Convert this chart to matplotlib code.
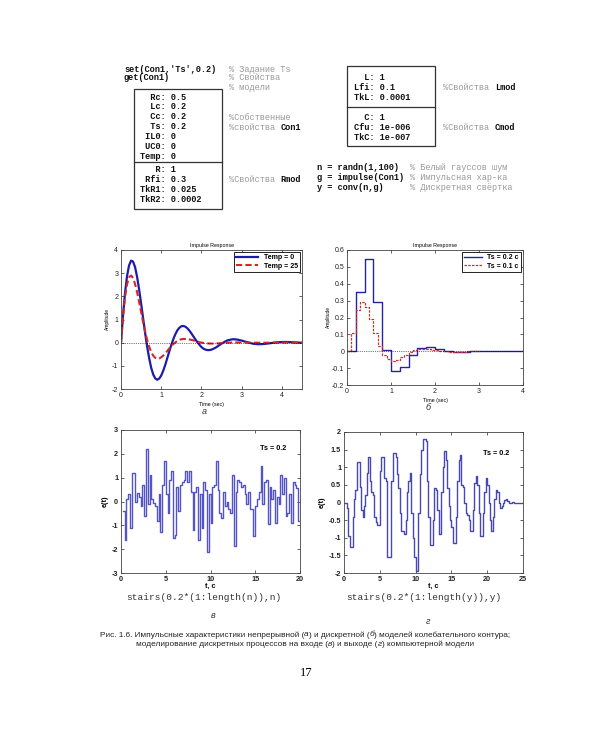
import numpy as np
import matplotlib
matplotlib.use('Agg')
import matplotlib.pyplot as plt
from matplotlib.patches import Rectangle
from matplotlib.ticker import FuncFormatter

plt.rcParams['font.family'] = ['Liberation Sans', 'DejaVu Sans']
plt.rcParams['axes.unicode_minus'] = False

# ---- data ----
# (а) continuous impulse response, Temp = 0 / Temp = 25
t_cont = np.concatenate([np.arange(0, 3.001, 0.05), np.arange(3.1, 4.501, 0.1)])
temp0 = [0, 1.18, 2.15, 2.87, 3.33, 3.54, 3.50, 3.26, 2.84, 2.30,
         1.69, 1.05, 0.41, -0.17, -0.67, -1.08, -1.37, -1.54, -1.60, -1.55,
         -1.42, -1.21, -0.96, -0.67, -0.38, -0.10, 0.15, 0.36, 0.53, 0.64,
         0.71, 0.72, 0.69, 0.62, 0.52, 0.40, 0.27, 0.14, 0.02, -0.09,
         -0.19, -0.26, -0.30, -0.32, -0.32, -0.30, -0.26, -0.22, -0.16, -0.10,
         -0.04, 0.01, 0.06, 0.10, 0.12, 0.14, 0.15, 0.14, 0.13, 0.11, 0.09,
         0.04, -0.01, -0.05, -0.065, -0.063, -0.048, -0.025, -0.002, 0.017, 0.028,
         0.030, 0.025, 0.015, 0.004, -0.005]
temp25 = [0, 1.12, 1.96, 2.52, 2.82, 2.90, 2.79, 2.53, 2.18, 1.76,
          1.32, 0.88, 0.48, 0.12, -0.17, -0.40, -0.56, -0.65, -0.69, -0.68,
          -0.63, -0.56, -0.46, -0.36, -0.25, -0.15, -0.06, 0.01, 0.08, 0.12,
          0.15, 0.16, 0.16, 0.16, 0.14, 0.12, 0.10, 0.07, 0.05, 0.02,
          0.005, -0.011, -0.024, -0.032, -0.037, -0.039, -0.038, -0.035, -0.030, -0.025,
          -0.019, -0.013, -0.007, -0.003, 0.002, 0.004, 0.007, 0.008, 0.009, 0.009, 0.009,
          0.006, 0.003, 0.0, -0.002, -0.003, -0.002, -0.001, 0.0, 0.001, 0.001,
          0.001, 0.0, 0.0, 0.0, 0.0]
legend_a = ['Temp = 0', 'Temp = 25']

# (б) discrete impulse responses
g_ts02 = [0, 0.35, 0.545, 0.29, 0.01, -0.115, -0.095, -0.025, 0.02, 0.025,
          0.015, 0.003, -0.003, -0.003, 0.0, 0, 0, 0, 0, 0, 0]
g_ts01 = [0, 0.11, 0.245, 0.29, 0.26, 0.19, 0.11, 0.03, -0.02, -0.045,
          -0.06, -0.05, -0.035, -0.02, -0.005, 0.005, 0.012, 0.015, 0.013, 0.01,
          0.005, 0.002, 0.0, -0.002, -0.003, -0.003, -0.002, -0.001, 0.0, 0.0, 0.0]
legend_b = ['Ts = 0.2 c', 'Ts = 0.1 c']

# (в) input white noise n
n = [-0.4, -1.6, 0.1, 0.3, -1.1, 1.2, 1.2, 0.0, 0.35, 0.2,
     -0.2, 0.7, -0.6, 2.2, -0.1, 1.1, 0.1, -0.05, -0.2, -0.8,
     0.3, -1.3, 0.7, 1.7, 0.3, -0.5, 0.9, 1.3, -1.55, -1.4,
     0.6, -0.4, 0.7, 0.8, 0.9, 1.3, 0.8, 1.3, 0.4, -1.2,
     0.4, 0.6, -1.6, 0.3, -1.1, 0.8, 0.5, -2.1, 0.3, -0.9,
     0.6, 0.7, 1.7, 0.5, -0.5, -0.7, 0.4, -0.2, 0.0, -0.3,
     -0.5, 1.1, -1.85, 0.4, 0.9, 0.8, 0.6, 0.7, 0.3, -0.1,
     0.4, -0.3, -0.3, -1.45, -0.2, 0.1, 0.4, 1.5, -0.1, 0.8,
     0.9, -0.95, 0.6, 0.1, 0.5, -0.9, 0.2, -0.1, 1.1, 0.3,
     1.0, -0.6, -0.5, 0.3, -0.9, 0.8, 0.7, 0.55, -0.8, -0.8]

# (г) output y
y = [0, -0.15, -0.95, -1.25, -1.25, -0.4, 0.1, 0.35, 1.15, 1.15,
     0.45, -0.2, -0.4, -0.1, 0.2, 0.85, 1.3, 0.6, 0.3, 0.2,
     -0.4, -0.55, -0.65, -0.65, 0.9, 1.3, 1.3, 0.7, 0.6, -1.55,
     -1.55, -1.55, 0.6, 1.4, 1.4, 1.3, 0.8, 0.4, -0.3, -0.8,
     -0.8, -0.9, -0.5, 0.3, 0.6, 0.85, -0.3, -1.0, -1.55, -1.95,
     -1.95, -0.3, 0.8, 1.5, 1.8, 1.8, 1.75, 0.6, -0.4, -1.2,
     -1.2, -0.5, 0.4, 0.35, -0.2, -0.9, -0.9, 0.3, 1.0, 1.45,
     1.2, 0.4, -0.1, -0.5, -0.7, -1.15, -1.15, -0.4, 0.6, 1.2,
     1.35, 0.5, 0.45, 0.0, -0.3, -0.35, -0.5, -0.8, -0.8, -0.2,
     0.55, 0.75, 0.5, -0.3, -0.95, -0.95, -0.3, 0.3, 0.7, 0.5,
     0.0, -0.5, -0.8, -0.4, 0.1, 0.35, 0.3, 0.0, -0.15, -0.1,
     0.0, 0.08, 0.1, 0.05, 0.0, -0.01, 0.02, 0.01, 0.0, 0.0,
     0, 0, 0, 0, 0]

# ---- page ----
W, H = 600, 750
fig = plt.figure(figsize=(6, 7.5), dpi=100)
fig.patch.set_facecolor('white')
bg = fig.add_axes([0, 0, 1, 1])
bg.set_xlim(0, W)
bg.set_ylim(H, 0)
bg.axis('off')

MONO = 'Liberation Mono'
FS_CODE = 6.2
CW = FS_CODE * 0.6 * 100 / 72   # mono char width, px
GRAY = '#9a9a9a'


def code(x, yy, s):
    bg.text(x, yy, s, family=MONO, fontsize=FS_CODE, fontweight='bold',
            va='center', ha='left', color='#111111')


def comment(x, yy, s, tail=None):
    bg.text(x, yy, s, family=MONO, fontsize=FS_CODE, va='center', ha='left', color=GRAY)
    if tail:
        code(x + len(s) * CW, yy, tail)


code(124, 69, "set(Con1,'Ts',0.2)")
code(124, 78, "get(Con1)")
comment(229, 69, "% Задание Ts")
comment(229, 78, "% Свойства")
comment(229, 88, "% модели")

# property boxes
props1 = [('Rc', '0.5'), ('Lc', '0.2'), ('Cc', '0.2'), ('Ts', '0.2'),
          ('IL0', '0'), ('UC0', '0'), ('Temp', '0')]
props1_r = [('R', '1'), ('Rfi', '0.3'), ('TkR1', '0.025'), ('TkR2', '0.0002')]
props2_l = [('L', '1'), ('Lfi', '0.1'), ('TkL', '0.0001')]
props2_c = [('C', '1'), ('Cfu', '1e-006'), ('TkC', '1e-007')]

for i, (k, v) in enumerate(props1):
    code(140, 97 + i * 9.9, f"{k:>4}: {v}")
for i, (k, v) in enumerate(props1_r):
    code(140, 169 + i * 10.2, f"{k:>4}: {v}")
for i, (k, v) in enumerate(props2_l):
    code(354, 78 + i * 10, f"{k:>3}: {v}")
for i, (k, v) in enumerate(props2_c):
    code(354, 118 + i * 10, f"{k:>3}: {v}")

for (x0, y0, x1, y1, ys) in [(134, 89, 222, 209, 162), (347, 66, 435, 146, 107)]:
    bg.add_patch(Rectangle((x0, y0), x1 - x0, y1 - y0, fill=False, lw=0.9, ec='#333333'))
    bg.plot([x0, x1], [ys, ys], color='#333333', lw=0.9)

comment(229, 117, "%Собственные")
comment(229, 127, "%свойства ", "Con1")
comment(229, 179, "%Свойства ", "Rmod")
comment(443, 88, "%Свойства ", "Lmod")
comment(443, 128, "%Свойства ", "Cmod")

code(317, 168, "n = randn(1,100)")
code(317, 178, "g = impulse(Con1)")
code(317, 188, "y = conv(n,g)")
comment(410, 168, "% Белый гауссов шум")
comment(410, 178, "% Импульсная хар-ка")
comment(410, 188, "% Дискретная свёртка")


def axes_px(x0, y0, x1, y1):
    return fig.add_axes([x0 / W, 1 - y1 / H, (x1 - x0) / W, (y1 - y0) / H])


fmt = FuncFormatter(lambda v, p: f"{v:g}")


def matlab_style(ax, fs, bold):
    ax.tick_params(direction='in', top=True, right=True, length=2.5, width=0.5,
                   labelsize=fs, pad=2, colors='#222222')
    ax.xaxis.set_major_formatter(fmt)
    ax.yaxis.set_major_formatter(fmt)
    for sp in ax.spines.values():
        sp.set_linewidth(0.6)
        sp.set_color('#444444')
    if bold:
        for lab in ax.get_xticklabels() + ax.get_yticklabels():
            lab.set_fontweight('bold')


# (а)
ax = axes_px(121, 250, 302, 389)
ax.plot(t_cont, temp0, color='#1c1ca8', lw=1.6, label=legend_a[0])
ax.plot(t_cont, temp25, color='#d42828', lw=1.5, ls=(0, (3, 1.5)), label=legend_a[1])
ax.axhline(0, color='k', ls=':', lw=0.5)
ax.set_xlim(0, 4.5)
ax.set_ylim(-2, 4)
ax.set_xticks([0, 1, 2, 3, 4])
ax.set_yticks([-2, -1, 0, 1, 2, 3, 4])
matlab_style(ax, 5, False)
ax.set_title('Impulse Response', fontsize=3.8, pad=2)
ax.set_xlabel('Time (sec)', fontsize=3.8, labelpad=2)
ax.set_ylabel('Amplitude', fontsize=3.5, labelpad=1)
ax.legend(loc='upper right', prop={'weight': 'bold', 'size': 5}, fancybox=False,
          edgecolor='k', framealpha=1, borderaxespad=0.3, handlelength=3.2,
          borderpad=0.3, labelspacing=0.2).get_frame().set_linewidth(0.6)

# (б)
ax = axes_px(347, 250, 523, 385)
t02 = 0.2 * np.arange(len(g_ts02))
t01 = 0.1 * np.arange(len(g_ts01))
ax.step(t02, g_ts02, where='post', color='#2424a0', lw=1.0, label=legend_b[0])
ax.step(t01, g_ts01, where='post', color='#cc3030', lw=0.9, ls=(0, (2, 1)), label=legend_b[1])
ax.axhline(0, color='k', ls=':', lw=0.5)
ax.set_xlim(0, 4)
ax.set_ylim(-0.2, 0.6)
ax.set_xticks([0, 1, 2, 3, 4])
ax.set_yticks(np.round(np.arange(-0.2, 0.61, 0.1), 1))
matlab_style(ax, 5, False)
ax.set_title('Impulse Response', fontsize=3.8, pad=2)
ax.set_xlabel('Time (sec)', fontsize=3.8, labelpad=2)
ax.set_ylabel('Amplitude', fontsize=3.5, labelpad=1)
ax.legend(loc='upper right', prop={'weight': 'bold', 'size': 5}, fancybox=False,
          edgecolor='k', framealpha=1, borderaxespad=0.3, handlelength=2.5,
          borderpad=0.3, labelspacing=0.2).get_frame().set_linewidth(0.6)

# (в)
ax = axes_px(121, 430, 300, 573)
ax.step(0.2 * np.arange(1, len(n) + 1), n, where='post', color='#5454c6', lw=1.0)
ax.set_xlim(0, 20)
ax.set_ylim(-3, 3)
ax.set_xticks([0, 5, 10, 15, 20])
ax.set_yticks([-3, -2, -1, 0, 1, 2, 3])
matlab_style(ax, 5.2, True)
ax.set_xlabel('t, c', fontsize=5.2, fontweight='bold', labelpad=0)
ax.set_ylabel('e(t)', fontsize=5.2, fontweight='bold', labelpad=2)
ax.text(0.85, 0.87, 'Ts = 0.2', transform=ax.transAxes, fontsize=5.2,
        fontweight='bold', ha='center', va='center')

# (г)
ax = axes_px(344, 432, 523, 573)
ax.step(0.2 * np.arange(1, len(y) + 1), y, where='post', color='#4848b4', lw=1.0)
ax.set_xlim(0, 25)
ax.set_ylim(-2, 2)
ax.set_xticks([0, 5, 10, 15, 20, 25])
ax.set_yticks(np.arange(-2, 2.01, 0.5))
matlab_style(ax, 5.2, True)
ax.set_xlabel('t, c', fontsize=5.2, fontweight='bold', labelpad=0)
ax.set_ylabel('e(t)', fontsize=5.2, fontweight='bold', labelpad=2)
ax.text(0.85, 0.85, 'Ts = 0.2', transform=ax.transAxes, fontsize=5.2,
        fontweight='bold', ha='center', va='center')

# code lines under the lower plots
bg.text(204, 597, 'stairs(0.2*(1:length(n)),n)', family=MONO, fontsize=6.8,
        ha='center', va='center', color='#333333')
bg.text(424, 597, 'stairs(0.2*(1:length(y)),y)', family=MONO, fontsize=6.8,
        ha='center', va='center', color='#333333')

# sub-figure letters
for (x, yy, s) in [(204, 411, 'а'), (428, 408, 'б'), (213, 616, 'в'), (428, 622, 'г')]:
    bg.text(x, yy, s, fontsize=6.5, style='italic', ha='center', va='center', color='#333333')


# caption with italic letters
def rich_line(yy, parts, cx, fs):
    r = fig.canvas.get_renderer()
    objs = [bg.text(0, yy, s, fontsize=fs, style=st, ha='left', va='center', color='#222222')
            for s, st in parts]
    widths = [o.get_window_extent(r).width for o in objs]
    x = cx - sum(widths) / 2
    for o, w in zip(objs, widths):
        o.set_x(x)
        x += w


rich_line(635, [('Рис. 1.6. Импульсные характеристики непрерывной (', 'normal'), ('а', 'italic'),
                (') и дискретной (', 'normal'), ('б', 'italic'),
                (') моделей колебательного контура;', 'normal')], 305, 5.95)
rich_line(644, [('моделирование дискретных процессов на входе (', 'normal'), ('в', 'italic'),
                (') и выходе (', 'normal'), ('г', 'italic'),
                (') компьютерной модели', 'normal')], 305, 5.95)

bg.text(306, 673, '17', family='Liberation Serif', fontsize=9, ha='center', va='center')

fig.savefig('out.png', dpi=100, facecolor='white')
